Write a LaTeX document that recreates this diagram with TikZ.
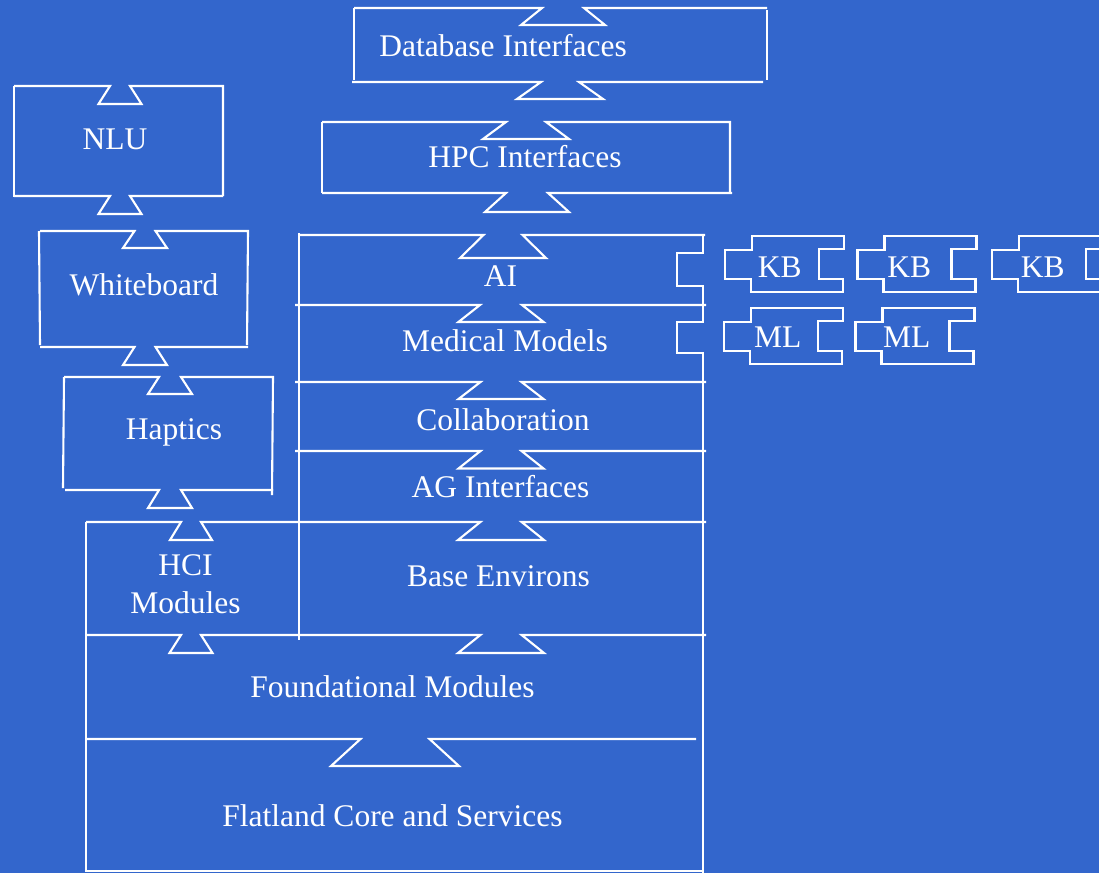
\documentclass[tikz,border=0pt]{standalone}
\usepackage{fontspec}
\setmainfont{Liberation Serif}
\definecolor{bg}{RGB}{51,102,204}
% dovetail: centre, y, half top width, half bottom width, depth
\newcommand\dove[5]{-- ({#1-#3},#2) -- ({#1-#4},{#2+#5}) -- ({#1+#4},{#2+#5}) -- ({#1+#3},#2)}
\tikzset{
  ln/.style={draw=white, line width=2.1pt, line join=miter},
  lab/.style={text=white, font=\fontsize{31.5}{36}\selectfont, inner sep=0pt, anchor=base},
}
\begin{document}
\begin{tikzpicture}[x=1pt,y=-1pt]
\useasboundingbox (0,0) rectangle (1099,873);
\fill[bg] (0,0) rectangle (1099,873);
\clip (0,0) rectangle (1099,873);

% Database Interfaces
\draw[ln] (354,8) -- (354,80);
\draw[ln] (354,8) \dove{563}{8}{21}{42}{17} -- (767,8);
\draw[ln] (767,10) -- (767,80);
\draw[ln] (352,82) \dove{560}{82}{19}{43}{17} -- (763,82);
\node[lab] (db) at (503,56) {Database Interfaces};

% HPC Interfaces
\draw[ln] (322,122) -- (322,193);
\draw[ln] (322,122) \dove{526}{122}{20}{43}{17} -- (730,122) -- (730,193);
\draw[ln] (322,193) \dove{527}{193}{21}{42}{19} -- (732,193);
\node[lab] (hpc) at (525,167) {HPC Interfaces};

% NLU
\draw[ln] (14,86) -- (14,197);
\draw[ln] (14,86) \dove{120}{86}{10}{21.5}{18} -- (223,86) -- (223,196);
\draw[ln] (14,196) \dove{120}{196}{10}{21.5}{18} -- (223,196);
\node[lab] (nlu) at (115,149) {NLU};

% Whiteboard
\draw[ln] (39,231) -- (40,345);
\draw[ln] (40,231) \dove{145}{231}{10.5}{22}{17} -- (248,231) -- (247,345);
\draw[ln] (40,347) \dove{145}{347}{10.5}{22}{18} -- (248,347);
\node[lab] (wb) at (144,295) {Whiteboard};

% Haptics
\draw[ln] (64,377) -- (63,488);
\draw[ln] (64,377) \dove{170}{377}{11}{22}{17} -- (273,377) -- (272,495);
\draw[ln] (65,490) \dove{170}{490}{11}{22}{18} -- (273,490);
\node[lab] (hap) at (174,439) {Haptics};

% Left lower frame
\draw[ln] (86,522) \dove{191}{522}{10}{21}{18} \dove{501}{522}{20.6}{43}{18} -- (706,522);
\draw[ln] (86,635) \dove{191}{635}{10}{21.5}{18} \dove{501}{635}{20.6}{43}{18} -- (706,635);
\draw[ln] (86,739) \dove{395}{739}{34.5}{64}{27} -- (696,739);
\draw[ln] (86,522) -- (86,871) -- (703,871);
\draw[ln] (298.6,233) -- (298.6,640);
\draw[ln] (703,235) -- (703,253) -- (677,253) -- (677,286) -- (703,286) -- (703,322)
  -- (677,322) -- (677,353) -- (703,353) -- (703,873);

% AI stack
\draw[ln] (298,235) \dove{503}{235}{19.5}{43}{23} -- (705,235);
\draw[ln] (295,305) \dove{501}{305}{21}{42.6}{17} -- (706,305);
\draw[ln] (295,382) \dove{501}{382}{20.5}{42.5}{17} -- (706,382);
\draw[ln] (295,451) \dove{501}{451}{20.5}{42.5}{17.5} -- (706,451);

\node[lab] (ai) at (500.5,286) {AI};
\node[lab] (med) at (505,351) {Medical Models};
\node[lab] (col) at (503,430) {Collaboration};
\node[lab] (ag) at (500.5,497) {AG Interfaces};
\node[lab] (hci) at (185.5,575) {HCI};
\node[lab] (hcim) at (185.5,613.5) {Modules};
\node[lab] (base) at (498.5,586) {Base Environs};
\node[lab] (found) at (392.5,697.5) {Foundational Modules};
\node[lab] (flat) at (392.5,826) {Flatland Core and Services};

% KB and ML pieces
\foreach \dx/\dy in {0/0, 132.5/0, 267/0, -1/72, 130.5/72}{
  \begin{scope}[shift={(\dx,\dy)}]
    \draw[ln] (752,236) -- (844,236) -- (844,249) -- (819,249) -- (819,279) -- (843,279)
      -- (843,292) -- (751,292) -- (751,279) -- (725,279) -- (725,250) -- (752,250) -- cycle;
  \end{scope}
}
\node[lab] (kb1) at (779.7,277.7) {KB};
\node[lab] (kb2) at (909.3,277.7) {KB};
\node[lab] (kb3) at (1042.8,277.7) {KB};
\node[lab] (ml1) at (777.7,347.7) {ML};
\node[lab] (ml2) at (906.7,347.7) {ML};
\end{tikzpicture}
\end{document}
